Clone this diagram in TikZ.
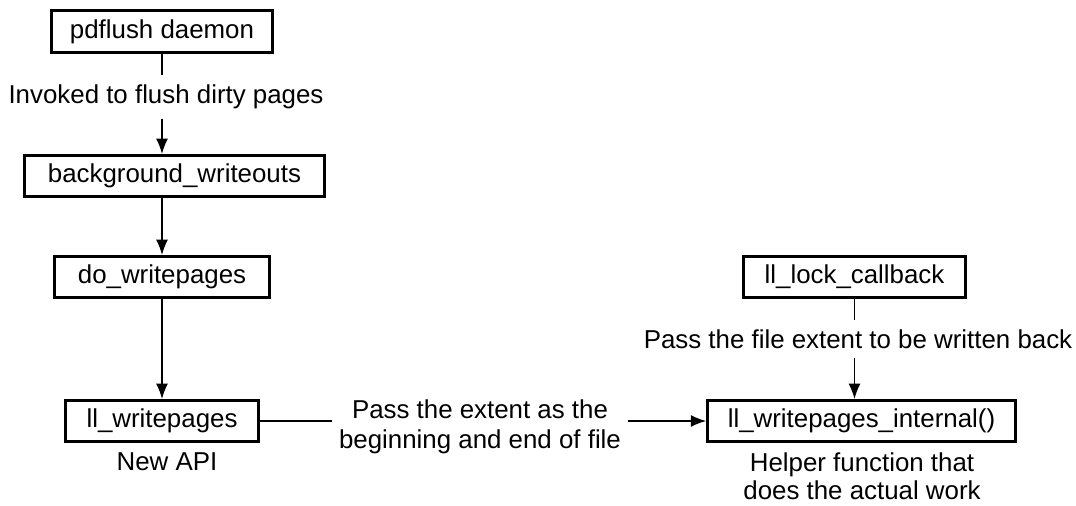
\documentclass[tikz,border=0pt]{standalone}
\usepackage{fontspec}
\setmainfont{Liberation Sans}
\usetikzlibrary{positioning,arrows.meta}

\begin{document}
\begin{tikzpicture}[
  x=0.75pt, y=-0.75pt,
  font=\fontsize{19.4}{22}\selectfont,
  box/.style={draw, line width=2.1pt, minimum height=31pt, inner sep=2pt},
  note/.style={align=center, inner xsep=5pt, inner ysep=7pt},
  link/.style={line width=1pt},
  arrow/.style={-{Latex[length=11.5pt,width=9pt]}, line width=1pt}
]
\useasboundingbox (0,0) rectangle (1076,506);

% call chain on the left
\node[box, minimum width=166pt] (pdflush) at (162,31.5) {pdflush daemon};
\node[box, minimum width=225pt] (bgwrite) at (174.5,176) {background\_writeouts};
\node[box, minimum width=161pt] (dowrite) at (162,277) {do\_writepages};
\node[box, minimum width=145pt] (llwrite) at (162,421) {ll\_writepages};

% lock callback on the right
\node[box, minimum width=166.5pt] (lockcb) at (854.5,277) {ll\_lock\_callback};
\node[box, minimum width=231pt] (internal) at (861.5,421) {ll\_writepages\_internal()};

% texts
\node[note] (flushtxt) at (166,97) {Invoked to flush dirty pages};
\node[note, font=\fontsize{19.4}{22.5}\selectfont] (extenttxt) at (480,427) {Pass the extent as the\\beginning and end of file};
\node[note] (cbtxt) at (858,339) {Pass the file extent to be written back};
\node[note] (apitxt) at (167,462) {New API};
\node[note, font=\fontsize{19.4}{21}\selectfont] (helpertxt) at (862,476) {Helper function that\\does the actual work};

% connectors
\draw[link] (pdflush) -- (pdflush |- flushtxt.north);
\draw[arrow] (pdflush |- flushtxt.south) -- (pdflush |- bgwrite.north);
\draw[arrow] (bgwrite.south -| dowrite) -- (dowrite);
\draw[arrow] (dowrite) -- (llwrite);
\draw[link] (llwrite) -- (llwrite -| extenttxt.west);
\draw[arrow] (llwrite -| extenttxt.east) -- (internal);
\draw[link] (lockcb) -- (lockcb |- cbtxt.north);
\draw[arrow] (lockcb |- cbtxt.south) -- (lockcb |- internal.north);
\end{tikzpicture}
\end{document}
